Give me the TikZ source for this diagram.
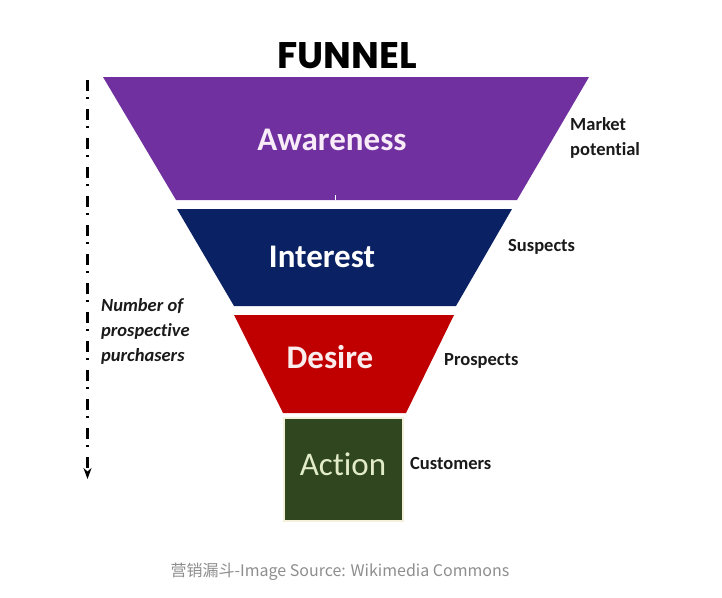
\documentclass[tikz,border=0pt]{standalone}
\usepackage{fontspec}
\setmainfont{Carlito}[Ligatures=NoCommon]
\newfontfamily\titlefont{Poppins}
\newfontfamily\cjkfont{Noto Sans CJK SC}
\usetikzlibrary{arrows.meta}
\definecolor{awarecol}{HTML}{7030A0}
\definecolor{interestcol}{HTML}{0A2264}
\definecolor{desirecol}{HTML}{C00000}
\definecolor{actioncol}{HTML}{2F461F}
\definecolor{actiontext}{HTML}{E2EDC8}
\definecolor{awaretext}{HTML}{F8ECF8}
\definecolor{desiretext}{HTML}{FBEDED}
\definecolor{edgecream}{HTML}{F3F0DC}
\definecolor{captiongray}{HTML}{8E8E8E}
\definecolor{sidetext}{HTML}{1A1A1A}
\begin{document}
\begin{tikzpicture}[x=1pt,y=-1pt,
  stagelabel/.style={inner sep=0pt, font=\bfseries\fontsize{33}{33}\selectfont},
  actionlabel/.style={inner sep=0pt, font=\fontsize{33}{33}\selectfont, text=actiontext},
  sidelabel/.style={inner sep=0pt, anchor=base west, text=sidetext, font=\bfseries\fontsize{18.5}{18.5}\selectfont},
  leftlabel/.style={inner sep=0pt, anchor=base west, text=sidetext, font=\bfseries\itshape\fontsize{18.5}{18.5}\selectfont},
  dashdotarrow/.style={line width=2.4pt, dash pattern=on 11pt off 6pt on 2pt off 10pt, -{Stealth[length=11pt,width=8pt]}}
]
\useasboundingbox (0,0) rectangle (722,597);
\fill[white] (0,0) rectangle (722,597);

% title
\node[inner sep=0pt, anchor=base] (title) at (347,68) {\titlefont\bfseries\fontsize{37}{37}\selectfont FUNNEL};

% funnel stages
\fill[awarecol] (103,77) -- (589,77) -- (517,200) -- (176,200) -- cycle;
\draw[white, line width=1pt] (335,195) -- (335,200);
\fill[interestcol] (177,209) -- (512,209) -- (456,306) -- (234,306) -- cycle;
\fill[desirecol] (234,315) -- (454,315) -- (406,413) -- (283,413) -- cycle;
\filldraw[fill=actioncol, draw=edgecream, line width=1.2pt] (284,418) rectangle (403,521);

% stage labels
\node[stagelabel, text=awaretext] (aware) at (332,140) {Awareness};
\node[stagelabel, text=white] (interest) at (322,257) {Interest};
\node[stagelabel, text=desiretext] (desire) at (330,357.5) {Desire};
\node[actionlabel] (action) at (343,464.5) {Action};

% side labels
\node[sidelabel] (market1) at (570,130) {Market};
\node[sidelabel] (market2) at (570,155) {potential};
\node[sidelabel] (suspects) at (508,251) {Suspects};
\node[sidelabel] (prospects) at (444,365) {Prospects};
\node[sidelabel] (customers) at (410,469.5) {Customers};

% left axis
\coordinate (axistop) at (87.5,80);
\coordinate (axisbot) at (87.5,479);
\draw[dashdotarrow] (axistop) -- (axisbot);
\node[leftlabel] (num1) at (101,311.5) {Number of};
\node[leftlabel] (num2) at (101,336.5) {prospective};
\node[leftlabel] (num3) at (101,361.5) {purchasers};

% caption
\node[inner sep=0pt, anchor=base, text=captiongray] (caption) at (340,576) {\cjkfont\fontsize{16}{16}\selectfont 营销漏斗-Image Source: Wikimedia Commons};
\end{tikzpicture}
\end{document}
